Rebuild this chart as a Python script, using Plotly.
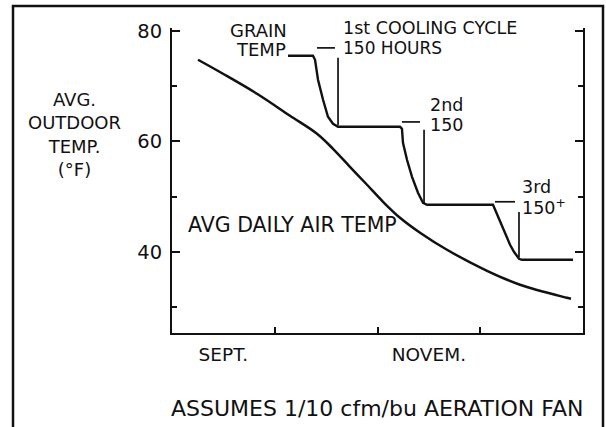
import plotly.graph_objects as go

# ---- data (x in months from start of September, y in °F) ----
air_x = [0.253, 0.496, 0.827, 1.148, 1.411, 1.567, 1.732, 1.898, 2.054, 2.219,
         2.414, 2.676, 3.066, 3.387, 3.844, 3.883]
air_y = [74.75, 72.22, 68.60, 64.62, 61.36, 58.64, 55.38, 52.13, 49.05, 46.15,
         43.44, 40.36, 36.56, 34.03, 31.67, 31.49]

grain_x = [1.129, 1.372, 1.392, 1.421, 1.470, 1.518, 1.567, 1.616,
           2.219, 2.238, 2.248, 2.287, 2.336, 2.394, 2.443, 2.482,
           3.124, 3.153, 3.192, 3.241, 3.290, 3.328, 3.377, 3.406, 3.903]
grain_y = [75.48, 75.48, 74.75, 71.13, 67.51, 64.43, 63.17, 62.62,
           62.62, 62.26, 59.73, 56.65, 53.57, 50.68, 48.87, 48.51,
           48.51, 47.24, 45.43, 43.08, 41.27, 40.0, 38.73, 38.55, 38.55]

cycle_end_x = [1.616, 2.453, 3.377]
cycle_top_y = [75.1, 62.1, 47.2]
cycle_bottom_y = [62.9, 48.7, 39.0]
leader_x0 = [1.411, 2.238, 3.143]
leader_x1 = [1.586, 2.414, 3.338]
leader_y = [76.9, 63.5, 49.05]

month_vals = [0.5, 2.5]
month_text = ["SEPT.", "NOVEM."]
month_bounds = [1, 2, 3]
ytick_vals = [40, 60, 80]
ytick_minor = [30, 50, 70]

INK = "#111111"
FONT = "DejaVu Sans"

# plot area in pixels (for placing paper-referenced text)
L, R, T, B = 172, 583, 28, 333
def px(xp):
    return (xp - L) / (R - L)
def py(yp):
    return (B - yp) / (B - T)

fig = go.Figure()
fig.add_trace(go.Scatter(x=air_x, y=air_y, mode="lines",
                         line=dict(color=INK, width=2.5, shape="spline", smoothing=1.0),
                         hoverinfo="skip", showlegend=False))
fig.add_trace(go.Scatter(x=grain_x, y=grain_y, mode="lines", line=dict(color=INK, width=2.4),
                         hoverinfo="skip", showlegend=False))
for i in range(len(cycle_end_x)):
    fig.add_trace(go.Scatter(x=[cycle_end_x[i], cycle_end_x[i]], y=[cycle_top_y[i], cycle_bottom_y[i]],
                             mode="lines", line=dict(color=INK, width=1.7), hoverinfo="skip", showlegend=False))
    fig.add_trace(go.Scatter(x=[leader_x0[i], leader_x1[i]], y=[leader_y[i], leader_y[i]],
                             mode="lines", line=dict(color=INK, width=1.7), hoverinfo="skip", showlegend=False))

texts = [
    ("GRAIN", 258, 31, "center", 18),
    ("TEMP", 261, 49, "center", 18),
    ("1st COOLING CYCLE", 341, 28, "left", 17.5),
    ("150 HOURS", 341, 48, "left", 17),
    ("2nd", 428, 105, "left", 17.5),
    ("150", 428, 125, "left", 17.5),
    ("3rd", 520, 187, "left", 17.5),
    ("150<sup>+</sup>", 520, 207, "left", 17.5),
    ("AVG DAILY AIR TEMP", 186, 225, "left", 20.5),
    ("AVG.<br>OUTDOOR<br>TEMP.<br>(°F)", 74, 134, "center", 18),
    ("ASSUMES 1/10 cfm/bu AERATION FAN", 377, 408, "center", 22),
]
for t, x, y, anc, fs in texts:
    fig.add_annotation(text=t, x=px(x), y=py(y), xref="paper", yref="paper", showarrow=False,
                       xanchor=anc, yanchor="middle", align="center",
                       font=dict(family=FONT, size=fs, color=INK))

# outer frame of the drawing
fig.add_shape(type="rect", xref="paper", yref="paper", x0=px(13), x1=px(603), y0=py(440), y1=py(6),
              line=dict(color=INK, width=2.5), fillcolor="rgba(0,0,0,0)", layer="above")

fig.update_layout(
    width=606, height=427,
    margin=dict(l=L, r=606 - R, t=T, b=427 - B, autoexpand=False),
    paper_bgcolor="white", plot_bgcolor="white",
    font=dict(family=FONT, size=17, color=INK),
    showlegend=False,
)
fig.update_xaxes(range=[0, 4], showgrid=False, zeroline=False, showline=True, linecolor=INK, linewidth=2,
                 tickmode="array", tickvals=month_vals, ticktext=month_text, ticks="",
                 tickfont=dict(family=FONT, size=18.5, color=INK), ticklabelstandoff=4, automargin=False,
                 minor=dict(tickmode="array", tickvals=month_bounds, ticks="inside", ticklen=6, tickwidth=1.5, tickcolor=INK),
                 mirror=False)
fig.update_yaxes(range=[25.3, 80.5], showgrid=False, zeroline=False, showline=True, linecolor=INK, linewidth=2,
                 tickmode="array", tickvals=ytick_vals, ticks="inside", ticklen=8, tickwidth=1.5, tickcolor=INK,
                 tickfont=dict(family=FONT, size=19.5, color=INK), ticklabelstandoff=4, automargin=False,
                 minor=dict(tickmode="array", tickvals=ytick_minor, ticks="inside", ticklen=5, tickwidth=1.5, tickcolor=INK),
                 mirror="ticks")

fig.write_html("out.html", config={"displayModeBar": False},
               post_script="document.body.style.margin='0px';")
